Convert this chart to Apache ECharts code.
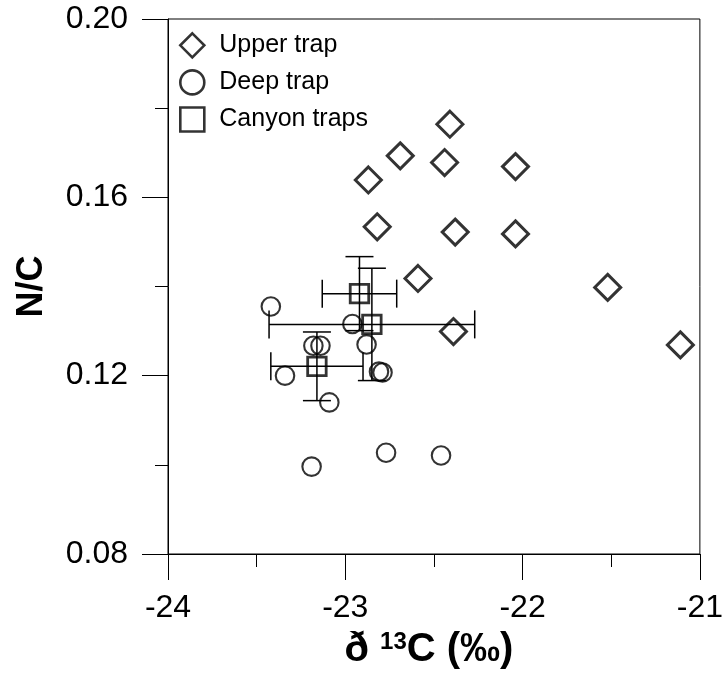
<!DOCTYPE html>
<html>
<head>
<meta charset="utf-8">
<script src="https://cdn.jsdelivr.net/npm/echarts@6/dist/echarts.min.js"></script>
<style>
html,body{margin:0;padding:0;background:#fff;}
#chart{width:726px;height:676px;}
</style>
</head>
<body>
<div id="chart"></div>
<script>
// Upper trap (diamonds)
var upperX = [-22.41, -22.69, -22.44, -22.04, -22.87, -22.82, -22.38, -22.04, -22.59, -22.39, -21.52, -21.11];
var upperY = [0.1764, 0.1693, 0.1678, 0.1669, 0.1639, 0.1534, 0.1522, 0.1518, 0.1418, 0.1299, 0.1398, 0.1269];
// Deep trap (circles)
var deepX = [-23.42, -22.96, -23.18, -23.14, -22.88, -23.34, -22.81, -22.79, -23.09, -23.19, -22.77, -22.46];
var deepY = [0.1355, 0.1316, 0.1267, 0.1267, 0.1270, 0.1200, 0.1209, 0.1207, 0.1140, 0.0996, 0.1027, 0.1021];
// Canyon traps (squares) with error bars
var canyonX = [-22.92, -22.85, -23.16];
var canyonY = [0.1384, 0.1315, 0.1221];
var canyonXErr = [0.21, 0.58, 0.26];
var canyonYErr = [0.0083, 0.0126, 0.0077];
// Axis ticks
var xTicks = [-24, -23, -22, -21];
var yTicks = [0.08, 0.12, 0.16, 0.20];

function pairs(xs, ys) { return xs.map(function (x, i) { return [x, ys[i]]; }); }

var chart = echarts.init(document.getElementById('chart'), null, { renderer: 'canvas' });
var FONT = 'Liberation Sans, Arial, Helvetica, sans-serif';
var CAP = 14;

var errData = canyonX.map(function (x, i) { return [x, canyonY[i], canyonXErr[i], canyonYErr[i]]; });

var option = {
  animation: false,
  backgroundColor: '#fff',
  grid: { left: 168, right: 24, top: 19, bottom: 122, show: true, borderColor: '#000', borderWidth: 1, backgroundColor: 'transparent' },
  legend: {
    orient: 'vertical', left: 174, top: 27, itemWidth: 24, itemHeight: 24, itemGap: 10.5,
    itemStyle: { borderWidth: 2.6, borderColor: '#000', color: 'rgba(255,255,255,0)' },
    textStyle: { fontFamily: FONT, fontSize: 25, color: '#000', padding: [0, 0, 0, 10] },
    data: ['Upper trap', 'Deep trap', 'Canyon traps']
  },
  xAxis: {
    type: 'value', min: xTicks[0], max: xTicks[xTicks.length - 1], interval: 1,
    axisLine: { show: true, onZero: false, lineStyle: { color: '#000', width: 1 } },
    axisTick: { show: true, inside: false, length: 26, lineStyle: { color: '#000', width: 1 } },
    minorTick: { show: true, splitNumber: 2, length: 13, lineStyle: { color: '#000', width: 1 } },
    splitLine: { show: false },
    axisLabel: { fontFamily: FONT, fontSize: 32, color: '#000', margin: 38 },
    name: '{a|ð }{s|13}{a|C (‰)}',
    nameLocation: 'middle', nameGap: 76,
    nameTextStyle: {
      padding: [0, 10, 0, 0],
      rich: {
        a: { fontFamily: FONT, fontSize: 40, fontWeight: 'bold', color: '#000' },
        s: { fontFamily: FONT, fontSize: 24, fontWeight: 'bold', color: '#000', verticalAlign: 'top', padding: [0, 0, 16, 0] }
      }
    }
  },
  yAxis: {
    type: 'value', min: yTicks[0], max: yTicks[yTicks.length - 1], interval: 0.04,
    axisLine: { show: true, onZero: false, lineStyle: { color: '#000', width: 1 } },
    axisTick: { show: true, inside: false, length: 26, lineStyle: { color: '#000', width: 1 } },
    minorTick: { show: true, splitNumber: 2, length: 13, lineStyle: { color: '#000', width: 1 } },
    splitLine: { show: false },
    axisLabel: { fontFamily: FONT, fontSize: 32, color: '#000', margin: 40, formatter: function (v) { return v.toFixed(2); } },
    name: 'N/C', nameLocation: 'middle', nameGap: 118, nameRotate: 90,
    nameTextStyle: { fontFamily: FONT, fontSize: 36, fontWeight: 'bold', color: '#000' }
  },
  series: [
    {
      name: 'errbars', type: 'custom', z: 3, silent: true,
      data: errData,
      renderItem: function (params, api) {
        var x = api.value(0), y = api.value(1), ex = api.value(2), ey = api.value(3);
        var l = api.coord([x - ex, y]), r = api.coord([x + ex, y]);
        var t = api.coord([x, y + ey]), b = api.coord([x, y - ey]);
        var st = { stroke: '#000', lineWidth: 1.5 };
        var seg = function (x1, y1, x2, y2) { return { type: 'line', shape: { x1: x1, y1: y1, x2: x2, y2: y2 }, style: st }; };
        return {
          type: 'group', children: [
            seg(l[0], l[1], r[0], r[1]),
            seg(l[0], l[1] - CAP, l[0], l[1] + CAP),
            seg(r[0], r[1] - CAP, r[0], r[1] + CAP),
            seg(t[0], t[1], b[0], b[1]),
            seg(t[0] - CAP, t[1], t[0] + CAP, t[1]),
            seg(b[0] - CAP, b[1], b[0] + CAP, b[1])
          ]
        };
      }
    },
    {
      name: 'Upper trap', type: 'scatter', symbol: 'diamond', symbolSize: 26, z: 4,
      itemStyle: { color: 'rgba(255,255,255,0)', borderColor: '#000', borderWidth: 3 },
      data: pairs(upperX, upperY)
    },
    {
      name: 'Deep trap', type: 'scatter', symbol: 'circle', symbolSize: 18.5, z: 4,
      itemStyle: { color: 'rgba(255,255,255,0)', borderColor: '#000', borderWidth: 2.1 },
      data: pairs(deepX, deepY)
    },
    {
      name: 'Canyon traps', type: 'scatter', symbol: 'rect', symbolSize: 18.5, z: 4,
      itemStyle: { color: 'rgba(255,255,255,0)', borderColor: '#000', borderWidth: 2.8 },
      data: pairs(canyonX, canyonY)
    }
  ]
};
chart.setOption(option);
</script>
</body>
</html>
